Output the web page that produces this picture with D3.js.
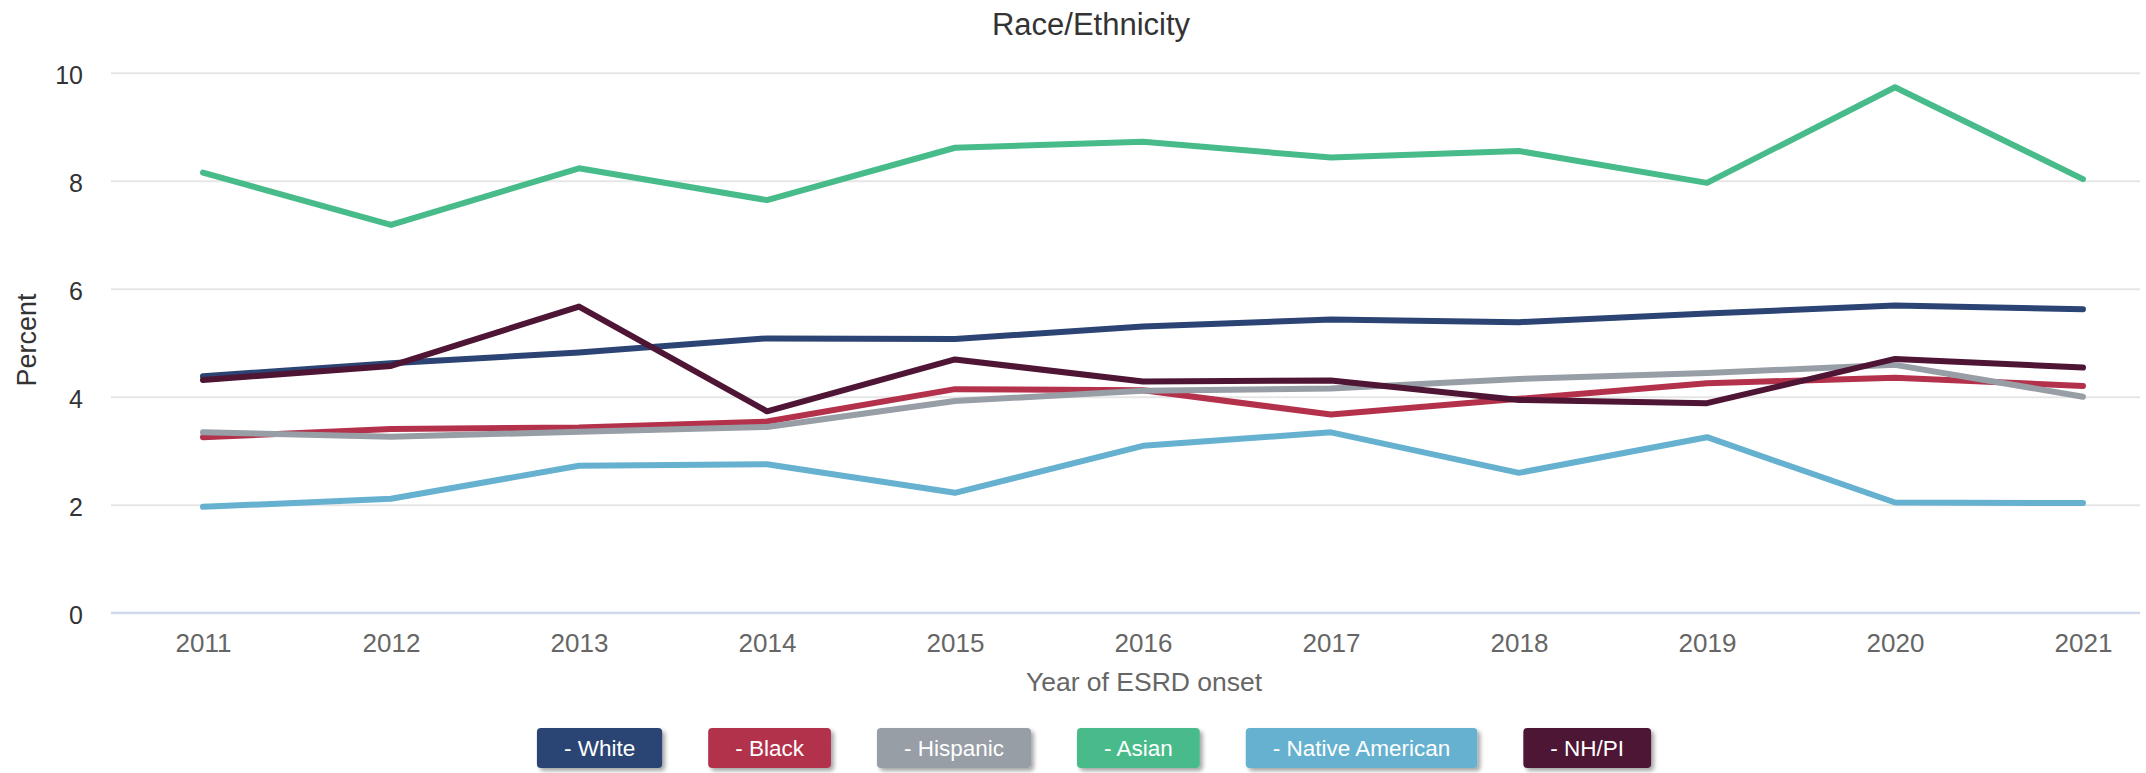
<!DOCTYPE html>
<html>
<head>
<meta charset="utf-8">
<script src="https://cdn.jsdelivr.net/npm/d3@7"></script>
<style>
  html, body { margin: 0; padding: 0; background: #ffffff; }
  svg { display: block; font-family: "Liberation Sans", Arial, Helvetica, sans-serif; }
</style>
</head>
<body>
<svg id="chart" width="2146" height="773"></svg>
<script>
// ---- Data ----
const years = ["2011","2012","2013","2014","2015","2016","2017","2018","2019","2020","2021"];
const seriesNames = ["White","Black","Hispanic","Asian","Native American","NH/PI"];
const seriesColors = ["#2b4473","#b3314b","#979ea6","#48bb8b","#66b1cf","#4e1535"];
const white    = [4.38, 4.62, 4.82, 5.08, 5.07, 5.30, 5.43, 5.38, 5.54, 5.69, 5.62];
const black    = [3.25, 3.40, 3.43, 3.54, 4.14, 4.12, 3.67, 3.96, 4.25, 4.35, 4.20];
const hispanic = [3.34, 3.26, 3.35, 3.44, 3.92, 4.11, 4.15, 4.33, 4.44, 4.59, 4.00];
const asian    = [8.15, 7.18, 8.23, 7.64, 8.61, 8.72, 8.43, 8.55, 7.96, 9.73, 8.03];
const nativeAm = [1.96, 2.11, 2.72, 2.75, 2.22, 3.09, 3.34, 2.59, 3.25, 2.04, 2.03];
const nhpi     = [4.31, 4.57, 5.67, 3.73, 4.69, 4.28, 4.30, 3.94, 3.88, 4.70, 4.54];
const yTicks = [0, 2, 4, 6, 8, 10];
const titleText = "Race/Ethnicity";
const xTitle = "Year of ESRD onset";
const yTitle = "Percent";

const seriesValues = [white, black, hispanic, asian, nativeAm, nhpi];

// ---- Layout ----
const plotLeft = 111, plotRight = 2140, plotTop = 72.7, plotBottom = 612.7;
const svg = d3.select("#chart");

const x = d3.scalePoint().domain(years).range([203, 2083]);
const y = d3.scaleLinear().domain([0, 10]).range([plotBottom, plotTop]);

// Title
svg.append("text")
  .attr("x", 1091).attr("y", 35)
  .attr("text-anchor", "middle")
  .attr("font-size", 31)
  .attr("fill", "#333333")
  .text(titleText);

// Y axis with gridlines
const yAxis = svg.append("g")
  .attr("transform", `translate(${plotLeft},0)`)
  .call(d3.axisLeft(y).tickValues(yTicks).tickSize(-(plotRight - plotLeft)).tickPadding(28).tickFormat(d3.format("d")));
yAxis.select(".domain").remove();
yAxis.selectAll(".tick line").attr("stroke", "#e6e6e6").attr("stroke-width", 2);
yAxis.selectAll(".tick text")
  .attr("font-size", 25)
  .attr("fill", "#333333")
  .attr("dy", "0.45em")
  .style("font-family", "'Liberation Sans', Arial, sans-serif");

// X axis
const xAxis = svg.append("g")
  .attr("transform", `translate(0,${plotBottom})`)
  .call(d3.axisBottom(x).tickSize(0).tickPadding(21));
xAxis.select(".domain").remove();
xAxis.selectAll(".tick text")
  .attr("font-size", 26)
  .attr("fill", "#666666")
  .style("font-family", "'Liberation Sans', Arial, sans-serif");
svg.append("line")
  .attr("x1", plotLeft).attr("x2", plotRight)
  .attr("y1", y(0)).attr("y2", y(0))
  .attr("stroke", "#ccd6eb").attr("stroke-width", 2);

// Axis titles
svg.append("text")
  .attr("x", 1144).attr("y", 691)
  .attr("text-anchor", "middle")
  .attr("font-size", 26.5)
  .attr("fill", "#666666")
  .text(xTitle);
svg.append("text")
  .attr("transform", "translate(36,340) rotate(-90)")
  .attr("text-anchor", "middle")
  .attr("font-size", 27)
  .attr("fill", "#333333")
  .text(yTitle);

// Lines
const line = d3.line().x((d, i) => x(years[i])).y(d => y(d));
svg.append("g").selectAll("path")
  .data(seriesValues)
  .join("path")
  .attr("d", d => line(d))
  .attr("fill", "none")
  .attr("stroke", (d, i) => seriesColors[i])
  .attr("stroke-width", 6)
  .attr("stroke-linejoin", "round")
  .attr("stroke-linecap", "round");

// Legend buttons
const defs = svg.append("defs");
const f = defs.append("filter").attr("id", "shadow").attr("x", "-20%").attr("y", "-30%").attr("width", "150%").attr("height", "180%");
f.append("feDropShadow").attr("dx", 3).attr("dy", 3).attr("stdDeviation", 2)
  .attr("flood-color", "#000").attr("flood-opacity", 0.35);

const legend = svg.append("g");
const pad = 27, gap = 46, btnH = 40, btnY = 728;
const items = legend.selectAll("g").data(seriesNames).join("g");
items.append("rect")
  .attr("rx", 4).attr("ry", 4)
  .attr("height", btnH).attr("y", btnY)
  .attr("fill", (d, i) => seriesColors[i])
  .attr("filter", "url(#shadow)");
items.append("text")
  .attr("y", btnY + 28)
  .attr("text-anchor", "middle")
  .attr("font-size", 22.5)
  .attr("fill", "#ffffff")
  .text(d => "- " + d);
const widths = [];
items.each(function() {
  widths.push(d3.select(this).select("text").node().getComputedTextLength() + 2 * pad);
});
const total = d3.sum(widths) + gap * (widths.length - 1);
let cx = 1094 - total / 2;
items.each(function(d, i) {
  const g = d3.select(this);
  g.select("rect").attr("x", cx).attr("width", widths[i]);
  g.select("text").attr("x", cx + widths[i] / 2);
  cx += widths[i] + gap;
});
</script>
</body>
</html>
